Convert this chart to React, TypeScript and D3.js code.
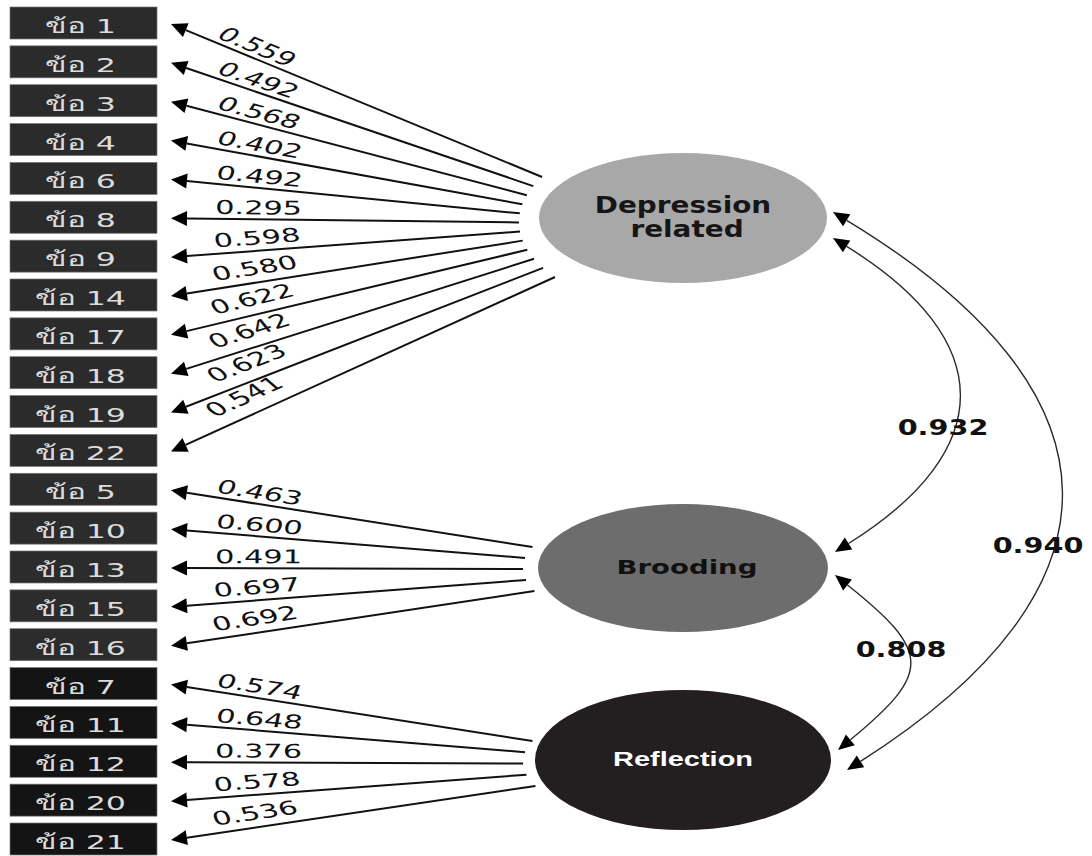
import React from 'react';
import * as d3 from 'd3';

const W = 1092;
const H = 856;

// ---------- data ----------
const depressionItems = ['ข้อ 1', 'ข้อ 2', 'ข้อ 3', 'ข้อ 4', 'ข้อ 6', 'ข้อ 8', 'ข้อ 9', 'ข้อ 14', 'ข้อ 17', 'ข้อ 18', 'ข้อ 19', 'ข้อ 22'];
const depressionLoadings = [0.559, 0.492, 0.568, 0.402, 0.492, 0.295, 0.598, 0.58, 0.622, 0.642, 0.623, 0.541];
const broodingItems = ['ข้อ 5', 'ข้อ 10', 'ข้อ 13', 'ข้อ 15', 'ข้อ 16'];
const broodingLoadings = [0.463, 0.6, 0.491, 0.697, 0.692];
const reflectionItems = ['ข้อ 7', 'ข้อ 11', 'ข้อ 12', 'ข้อ 20', 'ข้อ 21'];
const reflectionLoadings = [0.574, 0.648, 0.376, 0.578, 0.536];
const factorNames = ['Depression related', 'Brooding', 'Reflection'];
const correlationFrom = ['Depression related', 'Brooding', 'Depression related'];
const correlationTo = ['Brooding', 'Reflection', 'Reflection'];
const correlationValues = [0.932, 0.808, 0.94];

// ---------- layout / style ----------
type FactorStyle = {
  cx: number; cy: number; rx: number; ry: number; fill: string;
  fanTop: number; fanBottom: number; fanCy: number; fanRx: number; fanRy: number;
  boxFill: string;
};
const factorStyle: Record<string, FactorStyle> = {
  'Depression related': { cx: 683, cy: 218, rx: 144, ry: 65, fill: '#a8a8a8', fanTop: 177, fanBottom: 277, fanCy: 222, fanRx: 164, fanRy: 88, boxFill: '#2b2b2b' },
  Brooding: { cx: 683, cy: 568, rx: 145, ry: 64, fill: '#6d6d6d', fanTop: 547, fanBottom: 591, fanCy: 568, fanRx: 160, fanRy: 62, boxFill: '#2c2c2c' },
  Reflection: { cx: 683, cy: 760, rx: 148, ry: 70, fill: '#231f20', fanTop: 741, fanBottom: 786, fanCy: 762, fanRx: 160, fanRy: 62, boxFill: '#141414' },
};

// correlation curve geometry: tips (x offset from ellipse right edge, y offset from center),
// horizontal reach of the control points and their vertical pull
const corrGeom = [
  { fromDx: 6, fromDy: 20, toDx: 7, toDy: -16, reach: 164, pull: 102, lx: 943, ly: 435 },
  { fromDx: 7, fromDy: 7, toDx: 7, toDy: -10, reach: 95, pull: 77, lx: 901, ly: 657 },
  { fromDx: 6, fromDy: -6, toDx: 16, toDy: 10, reach: 292, pull: 181, lx: 1038, ly: 553 },
];

const groups = [
  { factor: 'Depression related', items: depressionItems, loadings: depressionLoadings },
  { factor: 'Brooding', items: broodingItems, loadings: broodingLoadings },
  { factor: 'Reflection', items: reflectionItems, loadings: reflectionLoadings },
];

const allItems = [...depressionItems, ...broodingItems, ...reflectionItems];
const yScale = d3.scalePoint<string>().domain(allItems).range([23, 839]);

const BOX_X = 10;
const BOX_W = 147;
const BOX_H = 32;
const TIP_X = 171;
const LABEL_X = 215;
const SX = 1.6; // horizontal stretch of the original picture

function arrowHead(tipX: number, tipY: number, ux: number, uy: number, L = 16, w = 7.5) {
  const bx = tipX - ux * L;
  const by = tipY - uy * L;
  const nx = -uy;
  const ny = ux;
  return {
    points: `${tipX},${tipY} ${bx + nx * w},${by + ny * w} ${bx - nx * w},${by - ny * w}`,
    bx,
    by,
  };
}

const fmt = d3.format('.3f');

export default function App() {
  const loadingsEls: React.ReactNode[] = [];
  const boxes: React.ReactNode[] = [];

  groups.forEach((g) => {
    const fs = factorStyle[g.factor];
    const fanY = d3.scaleLinear().domain([0, g.items.length - 1]).range([fs.fanTop, fs.fanBottom]);
    g.items.forEach((item, i) => {
      const yc = yScale(item)!;
      boxes.push(
        <g key={'b' + item}>
          <rect x={BOX_X} y={yc - BOX_H / 2} width={BOX_W} height={BOX_H} fill={fs.boxFill} stroke="#777" strokeWidth={0.7} />
          <text
            transform={`translate(${BOX_X + BOX_W / 2 - 3},${yc + 10}) scale(1.58,1)`}
            textAnchor="middle"
            fontFamily="'DejaVu Sans', 'Noto Sans', sans-serif"
            fontSize={20}
            fill="#dcdcdc"
          >
            {item}
          </text>
        </g>
      );
      const sy = fanY(i);
      const dyF = (sy - fs.fanCy) / fs.fanRy;
      const sx = fs.cx - fs.fanRx * Math.sqrt(Math.max(0, 1 - dyF * dyF));
      const ty = yc + 1;
      const dx = TIP_X - sx;
      const dy = ty - sy;
      const len = Math.hypot(dx, dy);
      const ux = dx / len;
      const uy = dy / len;
      const ah = arrowHead(TIP_X, ty, ux, uy);
      const m = (sy - ty) / (sx - TIP_X);
      const lineYAtLabel = ty + (LABEL_X - TIP_X) * m;
      const k = m >= 0 ? 5 : 5 + 19 * Math.abs(m);
      const phi = (Math.atan(m * SX) * 180) / Math.PI;
      loadingsEls.push(
        <g key={'l' + item}>
          <line x1={sx} y1={sy} x2={ah.bx} y2={ah.by} stroke="#111" strokeWidth={2} />
          <polygon points={ah.points} fill="#000" />
          <text
            transform={`translate(${LABEL_X},${lineYAtLabel - k}) scale(${SX},1) rotate(${phi})`}
            fontFamily="'DejaVu Sans', Verdana, sans-serif"
            fontSize={19}
            fill="#111"
          >
            {fmt(g.loadings[i])}
          </text>
        </g>
      );
    });
  });

  const corrEls = correlationValues.map((v, i) => {
    const a = factorStyle[correlationFrom[i]];
    const b = factorStyle[correlationTo[i]];
    const cg = corrGeom[i];
    const p0x = a.cx + a.rx + cg.fromDx;
    const p0y = a.cy + cg.fromDy;
    const p3x = b.cx + b.rx + cg.toDx;
    const p3y = b.cy + cg.toDy;
    const ctrlX = (p0x + p3x) / 2 + cg.reach;
    const c1x = ctrlX, c1y = p0y + cg.pull;
    const c2x = ctrlX, c2y = p3y - cg.pull;
    let ux = p0x - c1x, uy = p0y - c1y;
    let l = Math.hypot(ux, uy); ux /= l; uy /= l;
    const h0 = arrowHead(p0x, p0y, ux, uy, 16, 7);
    let vx = p3x - c2x, vy = p3y - c2y;
    l = Math.hypot(vx, vy); vx /= l; vy /= l;
    const h3 = arrowHead(p3x, p3y, vx, vy, 16, 7);
    const path = d3.path();
    path.moveTo(h0.bx, h0.by);
    path.bezierCurveTo(c1x, c1y, c2x, c2y, h3.bx, h3.by);
    return (
      <g key={'c' + i}>
        <path d={path.toString()} fill="none" stroke="#2a2a2a" strokeWidth={1.4} />
        <polygon points={h0.points} fill="#000" />
        <polygon points={h3.points} fill="#000" />
        <text
          transform={`translate(${cg.lx},${cg.ly}) scale(1.4,1)`}
          textAnchor="middle"
          fontFamily="'DejaVu Sans', Verdana, sans-serif"
          fontWeight="bold"
          fontSize={20.5}
          fill="#111"
        >
          {fmt(v)}
        </text>
      </g>
    );
  });

  const dep = factorStyle['Depression related'];
  const bro = factorStyle['Brooding'];
  const ref = factorStyle['Reflection'];

  return (
    <svg
      width={W}
      height={H}
      viewBox={`0 0 ${W} ${H}`}
      style={{ position: 'absolute', left: 0, top: 0, background: '#fff' }}
    >
      <rect x={0} y={0} width={W} height={H} fill="#fff" />
      {boxes}
      {factorNames.map((f) => {
        const s = factorStyle[f];
        return <ellipse key={'e' + f} cx={s.cx} cy={s.cy} rx={s.rx} ry={s.ry} fill={s.fill} />;
      })}
      {loadingsEls}
      {corrEls}
      <text transform={`translate(${dep.cx},${dep.cy - 5}) scale(1.24,1)`} textAnchor="middle" fontFamily="'DejaVu Sans', Verdana, sans-serif" fontWeight="bold" fontSize={22.5} fill="#161616">
        Depression
      </text>
      <text transform={`translate(${dep.cx + 4},${dep.cy + 19}) scale(1.24,1)`} textAnchor="middle" fontFamily="'DejaVu Sans', Verdana, sans-serif" fontWeight="bold" fontSize={22.5} fill="#161616">
        related
      </text>
      <text transform={`translate(${bro.cx + 4},${bro.cy + 6}) scale(1.45,1)`} textAnchor="middle" fontFamily="'DejaVu Sans', Verdana, sans-serif" fontWeight="bold" fontSize={19} fill="#111">
        Brooding
      </text>
      <text transform={`translate(${ref.cx},${ref.cy + 6}) scale(1.38,1)`} textAnchor="middle" fontFamily="'Liberation Sans', Arial, sans-serif" fontWeight="bold" fontSize={21} fill="#fff">
        Reflection
      </text>
    </svg>
  );
}
